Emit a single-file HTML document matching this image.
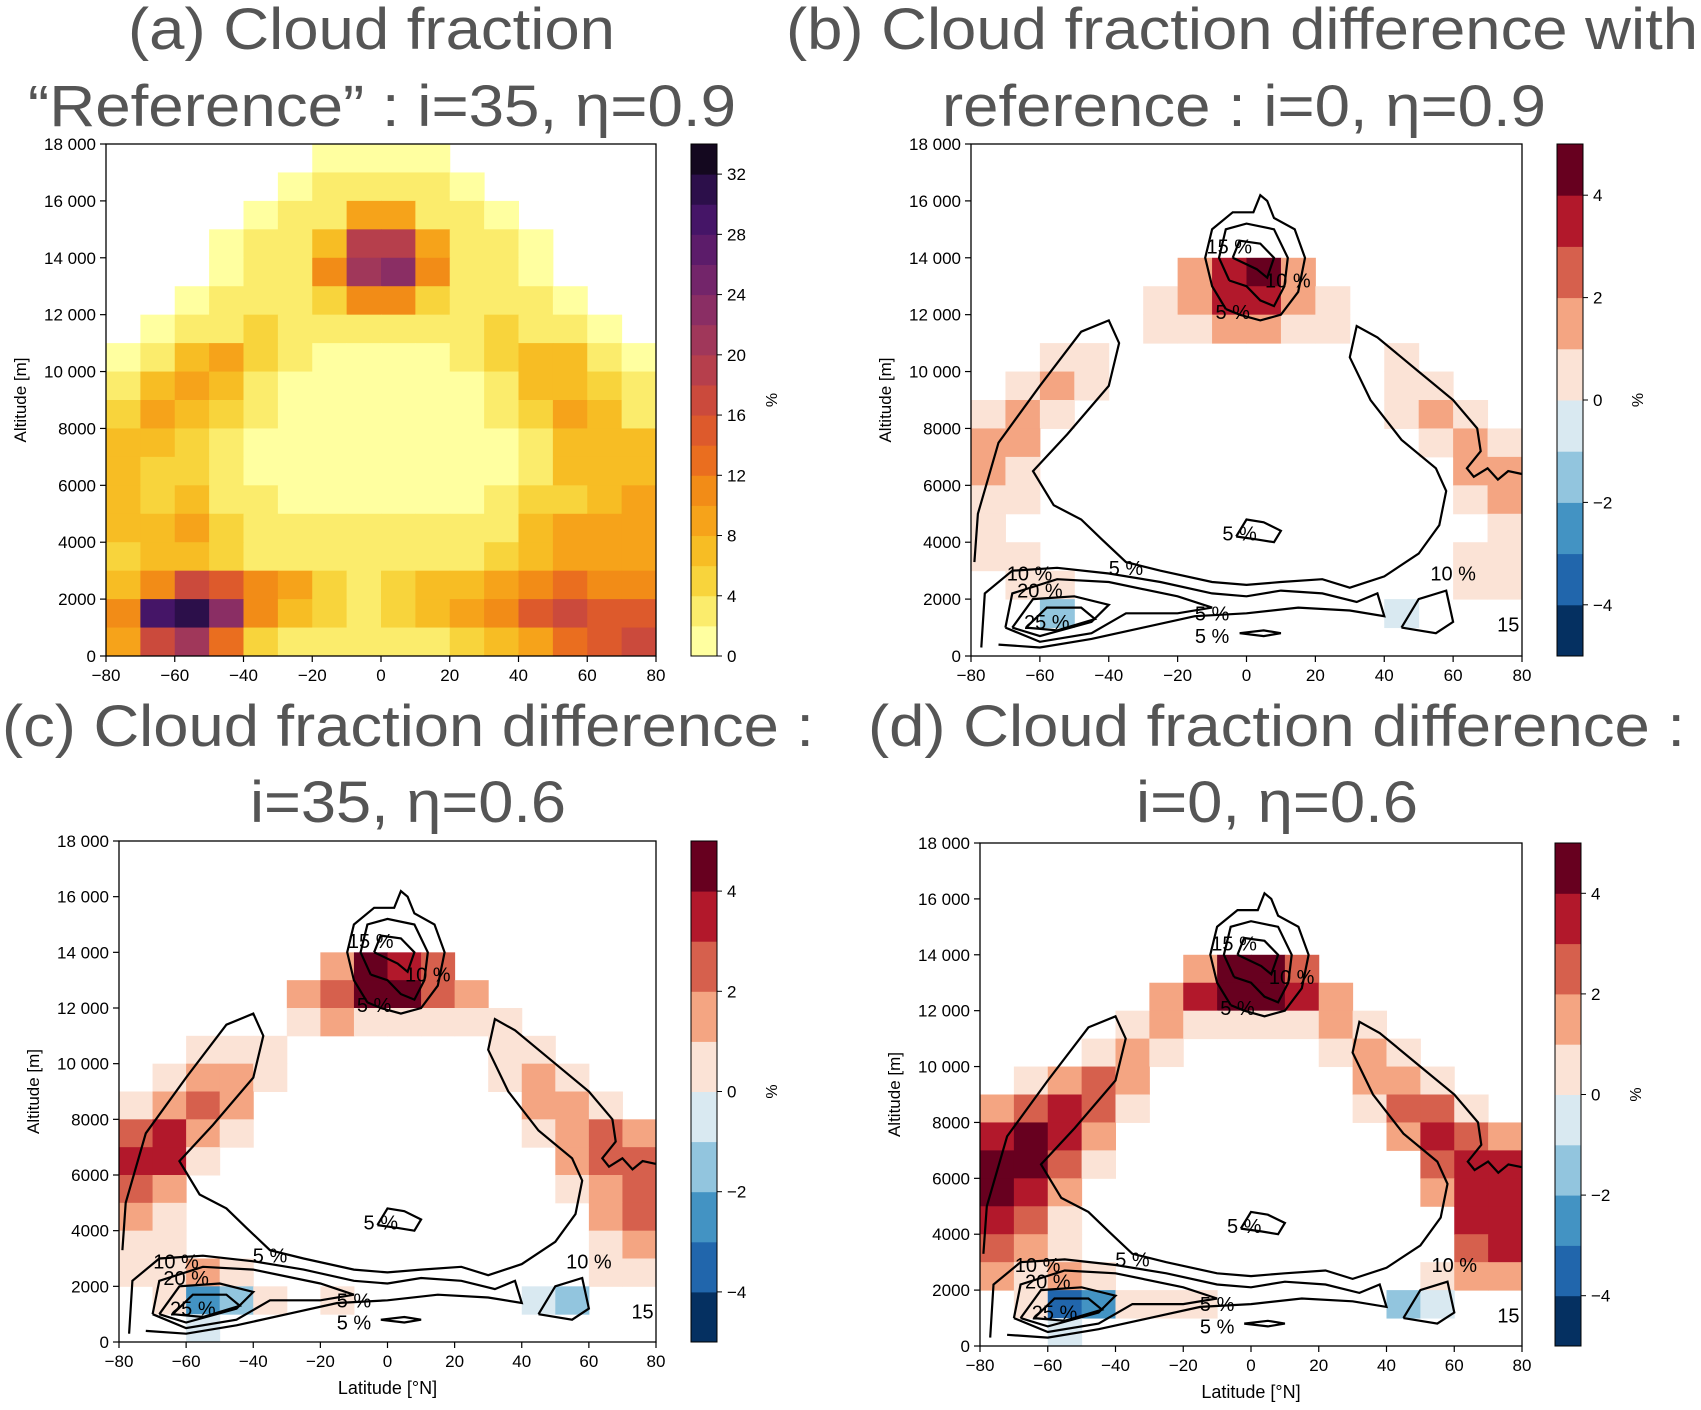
<!DOCTYPE html>
<html><head><meta charset="utf-8"><style>
html,body{margin:0;padding:0;background:#fff;}
svg{display:block;font-family:"Liberation Sans",sans-serif;}
</style></head><body>
<svg id="fig" width="1701" height="1410" viewBox="0 0 1701 1410" xmlns="http://www.w3.org/2000/svg">
<rect width="1701" height="1410" fill="#fff"/>
<g fill="#555" font-size="58">
<text x="128" y="49" textLength="487" lengthAdjust="spacingAndGlyphs">(a) Cloud fraction</text>
<text x="28" y="126" textLength="708" lengthAdjust="spacingAndGlyphs">“Reference” : i=35, η=0.9</text>
<text x="786" y="49" textLength="912" lengthAdjust="spacingAndGlyphs">(b) Cloud fraction difference with</text>
<text x="942" y="126" textLength="604" lengthAdjust="spacingAndGlyphs">reference : i=0, η=0.9</text>
<text x="2" y="746" textLength="812" lengthAdjust="spacingAndGlyphs">(c) Cloud fraction difference :</text>
<text x="250" y="822" textLength="316" lengthAdjust="spacingAndGlyphs">i=35, η=0.6</text>
<text x="868" y="746" textLength="817" lengthAdjust="spacingAndGlyphs">(d) Cloud fraction difference :</text>
<text x="1136" y="822" textLength="282" lengthAdjust="spacingAndGlyphs">i=0, η=0.6</text>
</g>
</svg>
<script>
const latEdges = [-80,-70,-60,-50,-40,-30,-20,-10,0,10,20,30,40,50,60,70,80];
const yTicks = [0,2000,4000,6000,8000,10000,12000,14000,16000,18000];
const yTickLabels = ["0","2000","4000","6000","8000","10 000","12 000","14 000","16 000","18 000"];
const xTicks = [-80,-60,-40,-20,0,20,40,60,80];
const xTickLabels = ["−80","−60","−40","−20","0","20","40","60","80"];
const cbTicksA = [0,4,8,12,16,20,24,28,32];
const cbTicksDiff = [-4,-2,0,2,4];
const gridA = [
[-1,-1,-1,-1,-1,-1,1,1,1,1,-1,-1,-1,-1,-1,-1],
[-1,-1,-1,-1,-1,1,2,3,3,2,1,-1,-1,-1,-1,-1],
[-1,-1,-1,-1,1,2,3,9,9,3,2,1,-1,-1,-1,-1],
[-1,-1,-1,1,2,2,7,18,18,8,2,2,1,-1,-1,-1],
[-1,-1,-1,1,2,3,11,20,22,11,2,2,1,-1,-1,-1],
[-1,-1,1,2,3,3,5,11,11,5,3,3,2,1,-1,-1],
[-1,1,2,3,5,3,3,3,3,3,3,4,3,2,1,-1],
[1,3,6,8,5,3,1,1,1,1,3,5,7,6,3,1],
[3,6,9,6,3,1,1,1,1,1,1,3,6,7,5,3],
[5,9,6,4,2,1,1,1,1,1,1,2,4,8,6,3],
[7,7,4,3,1,1,1,1,1,1,1,1,3,7,7,6],
[6,5,4,3,1,1,1,1,1,1,1,1,3,6,6,7],
[7,4,7,3,3,1,1,1,1,1,1,3,4,5,7,8],
[7,7,9,5,3,3,3,3,3,3,3,3,6,8,9,9],
[5,7,6,5,3,3,3,3,2,3,3,4,7,9,9,9],
[7,10,17,15,11,9,5,3,5,7,7,9,11,13,11,11],
[10,29,31,22,10,7,5,3,5,7,9,11,15,17,15,15],
[8,16,20,12,5,3,3,3,3,3,5,7,9,13,15,17]];
const gridB = [
[0,0,0,0,0,0,0,0,0,0,0,0,0,0,0,0],
[0,0,0,0,0,0,0,0,0,0,0,0,0,0,0,0],
[0,0,0,0,0,0,0,0,0,0,0,0,0,0,0,0],
[0,0,0,0,0,0,0,0,0,0,0,0,0,0,0,0],
[0,0,0,0,0,0,1.5,3.5,4.5,1.5,0,0,0,0,0,0],
[0,0,0,0,0,0.5,1.5,3.5,3.5,1.5,0.5,0,0,0,0,0],
[0,0,0,0,0,0.5,0.5,1.5,1.5,0.5,0.5,0,0,0,0,0],
[0,0,0.5,0.5,0,0,0,0,0,0,0,0,0.5,0,0,0],
[0,0.5,1.5,0.5,0,0,0,0,0,0,0,0,0.5,0.5,0,0],
[0.5,1.5,0.5,0,0,0,0,0,0,0,0,0,0.5,1.5,0.5,0],
[1.5,1.5,0,0,0,0,0,0,0,0,0,0,0,0.5,1.5,0.5],
[1.5,0.5,0,0,0,0,0,0,0,0,0,0,0,0,1.5,1.5],
[0.5,0.5,0,0,0,0,0,0,0,0,0,0,0,0,0.5,1.5],
[0.5,0,0,0,0,0,0,0,0,0,0,0,0,0,0,0.5],
[0.5,0.5,0,0,0,0,0,0,0,0,0,0,0,0,0.5,0.5],
[0,0.5,0.5,0,0,0,0,0,0,0,0,0,0,0,0.5,0.5],
[0,0,-1.5,0,0,0,0,0,0,0,0,0,-0.5,0,0,0],
[0,0,0,0,0,0,0,0,0,0,0,0,0,0,0,0]];
const gridC = [
[0,0,0,0,0,0,0,0,0,0,0,0,0,0,0,0],
[0,0,0,0,0,0,0,0,0,0,0,0,0,0,0,0],
[0,0,0,0,0,0,0,0,0,0,0,0,0,0,0,0],
[0,0,0,0,0,0,0,0,0,0,0,0,0,0,0,0],
[0,0,0,0,0,0,1.5,4.5,3.5,2.5,0,0,0,0,0,0],
[0,0,0,0,0,1.5,2.5,4.5,4.5,2.5,1.5,0,0,0,0,0],
[0,0,0,0,0,0.5,1.5,0.5,0.5,0.5,0.5,0.5,0,0,0,0],
[0,0,0.5,0.5,0.5,0,0,0,0,0,0,0.5,0.5,0,0,0],
[0,0.5,1.5,1.5,0.5,0,0,0,0,0,0,0.5,1.5,0.5,0,0],
[0.5,1.5,2.5,1.5,0,0,0,0,0,0,0,0,1.5,1.5,0.5,0],
[2.5,3.5,1.5,0.5,0,0,0,0,0,0,0,0,0.5,1.5,2.5,1.5],
[3.5,3.5,0.5,0,0,0,0,0,0,0,0,0,0,1.5,2.5,2.5],
[2.5,1.5,0,0,0,0,0,0,0,0,0,0,0,0.5,1.5,2.5],
[1.5,0.5,0,0,0,0,0,0,0,0,0,0,0,0,1.5,2.5],
[0.5,0.5,0,0,0,0,0,0,0,0,0,0,0,0,0.5,1.5],
[0.5,0.5,1.5,0.5,0,0,0,0,0,0,0,0,0,0,0.5,0.5],
[0,0.5,-2.5,-1.5,0.5,0,0.5,0,0,0,0,0,-0.5,-1.5,0,0],
[0,0,-0.5,0,0,0,0,0,0,0,0,0,0,0,0,0]];
const gridD = [
[0,0,0,0,0,0,0,0,0,0,0,0,0,0,0,0],
[0,0,0,0,0,0,0,0,0,0,0,0,0,0,0,0],
[0,0,0,0,0,0,0,0,0,0,0,0,0,0,0,0],
[0,0,0,0,0,0,0,0,0,0,0,0,0,0,0,0],
[0,0,0,0,0,0,1.5,4.5,4.5,2.5,0,0,0,0,0,0],
[0,0,0,0,0,1.5,3.5,4.5,4.5,3.5,1.5,0,0,0,0,0],
[0,0,0,0,0.5,1.5,0.5,0.5,0.5,0.5,1.5,0.5,0,0,0,0],
[0,0,0,0.5,1.5,0.5,0,0,0,0,0.5,1.5,0.5,0,0,0],
[0,0.5,1.5,2.5,1.5,0,0,0,0,0,0,1.5,1.5,0.5,0,0],
[1.5,2.5,3.5,2.5,0.5,0,0,0,0,0,0,0.5,2.5,2.5,0.5,0],
[3.5,4.5,3.5,1.5,0,0,0,0,0,0,0,0,1.5,3.5,2.5,1.5],
[4.5,4.5,2.5,0.5,0,0,0,0,0,0,0,0,0,2.5,3.5,3.5],
[4.5,3.5,1.5,0,0,0,0,0,0,0,0,0,0,1.5,3.5,3.5],
[3.5,2.5,0.5,0,0,0,0,0,0,0,0,0,0,0,3.5,3.5],
[2.5,1.5,0.5,0,0,0,0,0,0,0,0,0,0,0,2.5,3.5],
[1.5,0.5,1.5,0.5,0,0,0,0,0,0,0,0,0,0.5,1.5,1.5],
[0,0.5,-3.5,-2.5,0.5,0.5,0.5,0,0,0,0,0,-1.5,-0.5,0,0],
[0,0,-0.5,0,0,0,0,0,0,0,0,0,0,0,0,0]];
const contourTop5 = [[-6,12.2],[-10,13],[-12,14],[-10,15],[-4,15.6],[2,15.6],[4,16.2],[6,16],[8,15.4],[14,15],[17,14],[15,12.8],[10,12],[4,11.8],[-2,12],[-6,12.2]];
const contourTop10 = [[-5,13.2],[-8,14],[-6,15],[0,15.2],[8,15],[12,14],[11,13],[8,12.3],[4,12.5],[0,13],[-5,13.2]];
const contourTop15 = [[-4,14],[-2,14.6],[4,14.5],[8,14],[6,13.3],[3,13.6],[-4,14]];
const contourMain5 = [[-79,3.3],[-78,5],[-72,7.5],[-60,9.5],[-48,11.4],[-40,11.8],[-37,11],[-40,9.5],[-52,7.8],[-62,6.5],[-56,5.3],[-48,4.8],[-42,4.1],[-35,3.3],[-25,3.0],[-10,2.6],[0,2.5],[10,2.6],[22,2.7],[30,2.4],[40,2.8],[50,3.6],[56,4.6],[58,5.8],[55,6.6],[45,7.6],[36,9],[30,10.5],[32,11.6],[38,11.2],[50,10],[60,9],[67,8],[68,7.2],[64,6.6],[66,6.3],[70,6.6],[73,6.2],[76,6.5],[80,6.4]];
const contourLow5 = [[-77,0.3],[-76,2.2],[-68,3.0],[-55,3.1],[-40,2.9],[-25,2.6],[-10,2.2],[0,2.1],[10,2.3],[22,2.2],[32,1.9],[38,2.2],[40,1.4],[30,1.6],[15,1.7],[0,1.5],[-15,1.4],[-30,1.0],[-45,0.6],[-60,0.3],[-72,0.4]];
const contourLow10 = [[-70,1],[-68,2.2],[-55,2.7],[-40,2.6],[-20,2.1],[-10,1.7],[-20,1.5],[-35,1.5],[-45,0.8],[-60,0.5],[-70,1]];
const contourLow20 = [[-68,1],[-62,2],[-50,2.1],[-40,1.8],[-45,1.2],[-60,0.7],[-68,1]];
const contourLow25 = [[-64,1],[-58,1.7],[-48,1.7],[-44,1.3],[-55,0.9],[-64,1]];
const contourMid5 = [[-3,4.2],[0,4.8],[5,4.7],[10,4.4],[8,4.0],[3,4.1],[-3,4.2]];
const contourThin5 = [[-2,0.8],[5,0.9],[10,0.8],[5,0.7],[-2,0.8]];
const contourRight10 = [[45,1],[50,2],[58,2.3],[60,1.2],[55,0.8],[45,1]];
const contourLabels = [["15 %",-5,14.4],["10 %",12,13.2],["5 %",-4,12.1],["5 %",-2,4.3],["10 %",-63,2.9],["5 %",-35,3.1],["20 %",-60,2.3],["25 %",-58,1.2],["5 %",-10,1.5],["5 %",-10,0.7],["10 %",60,2.9],["15",76,1.1]];
const colorsA = ["#ffffa0","#fbec6c","#f8d43c","#f7bd24","#f6a31a","#f28c17","#ea6e1f","#dd5a2c","#cb4a3c","#b63f4c","#a0375a","#8a2e64","#73256a","#5c1c6a","#451567","#2c0f4a","#14081f"];
const colorsDiff = ["#053061","#2166ac","#4393c3","#92c5de","#d9e9f1","#fbe3d6","#f4a582","#d6604d","#b2182b","#67001f"];

const panels = [
 {id:"a",x0:106,x1:656,y0:144,y1:656,cb:[691,144,26,512],grid:gridA,type:"seq",xlabel:false},
 {id:"b",x0:971,x1:1522,y0:144,y1:656,cb:[1557,144,26,512],grid:gridB,type:"div",xlabel:false},
 {id:"c",x0:119,x1:656,y0:841,y1:1342,cb:[691,841,26,501],grid:gridC,type:"div",xlabel:true},
 {id:"d",x0:980,x1:1522,y0:843,y1:1346,cb:[1555,843,26,503],grid:gridD,type:"div",xlabel:true}];
const NS="http://www.w3.org/2000/svg";
const svg=document.getElementById("fig");
function mk(tag,attrs,parent){const e=document.createElementNS(NS,tag);for(const k in attrs)e.setAttribute(k,attrs[k]);(parent||svg).appendChild(e);return e;}

panels.forEach(p=>{
  const X=lat=>p.x0+(lat+80)/160*(p.x1-p.x0);
  const Y=alt=>p.y1-alt/18000*(p.y1-p.y0);
  const g=mk("g",{});
  
  
  const nrows=p.grid.length;
  p.grid.forEach((row,r)=>{
    const altTop=(nrows-r)*1000, altBot=(nrows-r-1)*1000;
    row.forEach((v,c)=>{
      let col=null;
      if(p.type==="seq"){ if(v<0) return; col=colorsA[Math.min(16,Math.floor(v/2))]; }
      else { if(v===0) return; col=colorsDiff[Math.max(0,Math.min(9,Math.floor(v)+5))]; }
      const x=X(latEdges[c]), w=X(latEdges[c+1])-x;
      const rc=mk("rect",{x:x,y:Y(altTop),width:w+0.5,height:Y(altBot)-Y(altTop)+0.5,fill:col},g);
      
      
    });
  });
  if(p.type==="div"){
    const cg=mk("g",{fill:"none",stroke:"#000","stroke-width":2.2},g);
    
    
    [contourTop5,contourTop10,contourTop15,contourMain5,contourLow5,contourLow10,contourLow20,contourLow25,contourMid5,contourThin5,contourRight10].forEach(cs=>{
      const d=cs.map((pt,i)=>(i?"L":"M")+X(pt[0]).toFixed(1)+","+Y(pt[1]*1000).toFixed(1)).join("");
      const pa=mk("path",{d:d},cg);
      
      
    });
    contourLabels.forEach(l=>{
      const t=mk("text",{x:X(l[1]),y:Y(l[2]*1000)+7,"font-size":20,"text-anchor":"middle",fill:"#000"},g);
      t.textContent=l[0];
      
      
    });
  }
  const fr=mk("rect",{x:p.x0,y:p.y0,width:p.x1-p.x0,height:p.y1-p.y0,fill:"none",stroke:"#000","stroke-width":1.3},g);
  
  
  yTicks.forEach((t,i)=>{
    const y=Y(t);
    mk("line",{x1:p.x0-6,x2:p.x0,y1:y,y2:y,stroke:"#000","stroke-width":1.2},g);
    const tx=mk("text",{x:p.x0-10,y:y+6,"font-size":17,"text-anchor":"end",fill:"#000"},g);
    tx.textContent=yTickLabels[i];
    
    
  });
  xTicks.forEach((t,i)=>{
    const x=X(t);
    mk("line",{x1:x,x2:x,y1:p.y1,y2:p.y1+6,stroke:"#000","stroke-width":1.2},g);
    const tx=mk("text",{x:x,y:p.y1+25,"font-size":17,"text-anchor":"middle",fill:"#000"},g);
    tx.textContent=xTickLabels[i];
    
    
  });
  const cy=(p.y0+p.y1)/2, ax=p.x0-80;
  const yl=mk("text",{x:ax,y:cy,"font-size":17,"text-anchor":"middle",fill:"#000",transform:"rotate(-90 "+ax+" "+cy+")"},g);
  yl.textContent="Altitude [m]";
  
  
  if(p.xlabel){
    const xl=mk("text",{x:(p.x0+p.x1)/2,y:p.y1+52,"font-size":18,"text-anchor":"middle",fill:"#000"},g);
    xl.textContent="Latitude [°N]";
    
    
  }
  const [cx,cyy,cw,ch]=p.cb;
  const cbg=mk("g",{},g);
  
  
  const cols=p.type==="seq"?colorsA:colorsDiff;
  const vmin=p.type==="seq"?0:-5, vmax=p.type==="seq"?34:5;
  const CY=v=>cyy+ch-(v-vmin)/(vmax-vmin)*ch;
  cols.forEach((c,i)=>{
    const lo=p.type==="seq"?i*2:i-5, hi=p.type==="seq"?i*2+2:i-4;
    mk("rect",{x:cx,y:CY(hi),width:cw,height:CY(lo)-CY(hi)+0.5,fill:c},cbg);
  });
  mk("rect",{x:cx,y:cyy,width:cw,height:ch,fill:"none",stroke:"#000","stroke-width":1},cbg);
  (p.type==="seq"?cbTicksA:cbTicksDiff).forEach(t=>{
    const y=CY(t);
    mk("line",{x1:cx+cw,x2:cx+cw+5,y1:y,y2:y,stroke:"#000"},cbg);
    const tx=mk("text",{x:cx+cw+10,y:y+6,"font-size":17,fill:"#000"},cbg);
    tx.textContent=t<0?"−"+(-t):String(t);
    
    
  });
  const lx=cx+cw+60, ly=cyy+ch/2;
  const pl=mk("text",{x:lx,y:ly,"font-size":16,"text-anchor":"middle",fill:"#000",transform:"rotate(-90 "+lx+" "+ly+")"},cbg);
  pl.textContent="%";
  
  
});
</script>
</body></html>
